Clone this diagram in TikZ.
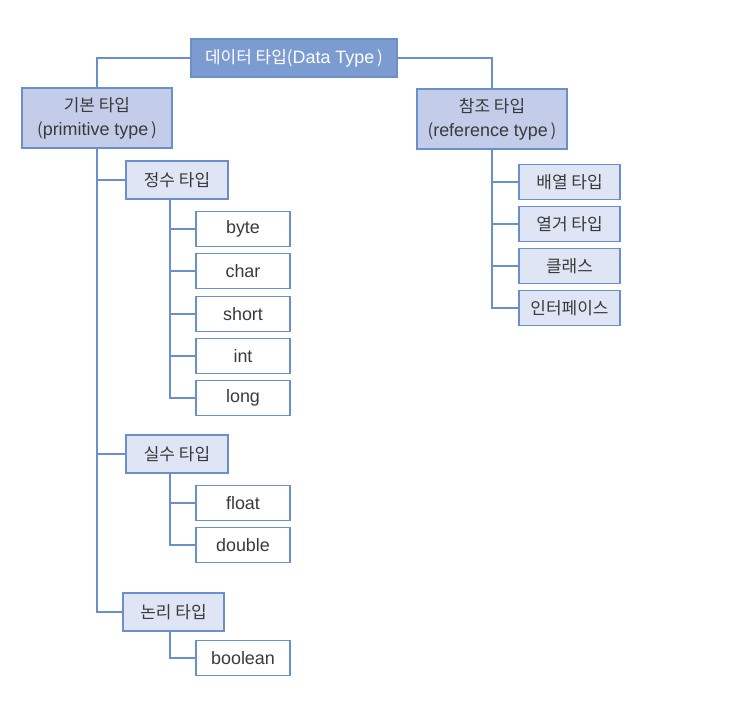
\documentclass[tikz,border=0pt]{standalone}
\usepackage{fontspec}
\setmainfont{Liberation Sans}[Scale=1.12]
\newfontfamily\kr{Noto Sans CJK KR}[Scale=1.06]
\definecolor{linkblue}{HTML}{6B8FCB}
\definecolor{topfill}{HTML}{7C9BD1}
\definecolor{midfill}{HTML}{C3CDE9}
\definecolor{lowfill}{HTML}{DFE5F4}
\definecolor{txtgray}{HTML}{3A3A3A}

\begin{document}
\begin{tikzpicture}[
    x=1pt, y=-1pt,
    font=\fontsize{16}{24}\selectfont,
    bbase/.style  = {draw=linkblue, line width=1.3pt, inner sep=0pt,
                     text=txtgray, align=center},
    btop/.style   = {bbase, fill=topfill, text=white,
                     minimum width=206pt, minimum height=38pt},
    bmid/.style   = {bbase, fill=midfill, minimum width=150pt,
                     minimum height=60pt},
    bsub/.style   = {bbase, fill=lowfill, minimum width=102pt,
                     minimum height=38pt},
    bleaf/.style  = {bbase, fill=white, minimum width=94pt,
                     minimum height=35pt},
    bref/.style   = {bbase, fill=lowfill, minimum width=101pt,
                     minimum height=35pt},
    link/.style   = {draw=linkblue, line width=1.2pt},
  ]
  \useasboundingbox (0,0) rectangle (745,702);

  \node[btop] (dtype) at (294, 58) {{\kr 데이터 타입(}Data Type{\kr\,)}};
  \node[bmid] (prim) at (97, 118) {{\kr 기본 타입}\\{\kr(}primitive type{\kr\,)}};
  \node[bmid] (refr) at (492, 119) {{\kr 참조 타입}\\{\kr(}reference type{\kr\,)}};

  \node[bsub] (intg) at (177, 180) {\kr 정수 타입};
  \node[bleaf] (byte) at (243, 229) {byte};
  \node[bleaf] (char) at (243, 271) {char};
  \node[bleaf] (short) at (243, 314) {short};
  \node[bleaf] (int) at (243, 356) {int};
  \node[bleaf] (long) at (243, 398) {long};

  \node[bsub] (real) at (177, 454) {\kr 실수 타입};
  \node[bleaf] (float) at (243, 503) {float};
  \node[bleaf] (double) at (243, 545) {double};

  \node[bsub, minimum width=101pt] (logic) at (173.5, 612) {\kr 논리 타입};
  \node[bleaf] (boolean) at (243, 658) {boolean};

  \node[bref] (array) at (569.5, 182) {\kr 배열 타입};
  \node[bref] (enum) at (569.5, 224) {\kr 열거 타입};
  \node[bref] (class) at (569.5, 266) {\kr 클래스};
  \node[bref] (iface) at (569.5, 308) {\kr 인터페이스};

  \draw[link] (dtype.west) -| (prim.north);
  \draw[link] (dtype.east) -| (refr.north);

  \draw[link] (prim.south) |- (intg.west);
  \draw[link] (prim.south) |- (real.west);
  \draw[link] (prim.south) |- (logic.west);

  \draw[link] ([xshift=-7pt]intg.south) |- (byte.west);
  \draw[link] ([xshift=-7pt]intg.south) |- (char.west);
  \draw[link] ([xshift=-7pt]intg.south) |- (short.west);
  \draw[link] ([xshift=-7pt]intg.south) |- (int.west);
  \draw[link] ([xshift=-7pt]intg.south) |- (long.west);

  \draw[link] ([xshift=-7pt]real.south) |- (float.west);
  \draw[link] ([xshift=-7pt]real.south) |- (double.west);

  \draw[link] ([xshift=-3.5pt]logic.south) |- (boolean.west);

  \draw[link] (refr.south) |- (array.west);
  \draw[link] (refr.south) |- (enum.west);
  \draw[link] (refr.south) |- (class.west);
  \draw[link] (refr.south) |- (iface.west);

\end{tikzpicture}
\end{document}
